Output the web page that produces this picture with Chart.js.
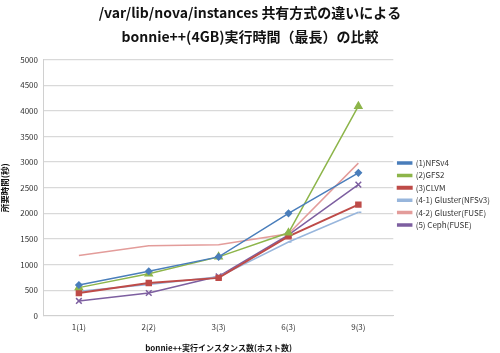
<!DOCTYPE html>
<html>
<head>
<meta charset="utf-8">
<script src="https://cdn.jsdelivr.net/npm/chart.js@4"></script>
<style>
  html, body { margin: 0; padding: 0; background: #fff; }
  #wrap { width: 500px; height: 353px; }
</style>
</head>
<body>
<div id="wrap"><canvas id="timeChart" width="500" height="353"></canvas></div>
<script>
// categories (instances and hosts)
const categories = ["1(1)", "2(2)", "3(3)", "6(3)", "9(3)"];

// series values, seconds
const nfsv4 = [600, 870, 1150, 2000, 2790];
const gfs2 = [550, 820, 1150, 1620, 4090];
const clvm = [445, 640, 740, 1550, 2170];
const glusterNfs = [480, 610, 760, 1440, 2020];
const glusterFuse = [1175, 1365, 1385, 1600, 2980];
const ceph = [290, 445, 770, 1580, 2560];

const seriesNames = ["(1)NFSv4", "(2)GFS2", "(3)CLVM", "(4-1) Gluster(NFSv3)", "(4-2) Gluster(FUSE)", "(5) Ceph(FUSE)"];
const titleLines = ["/var/lib/nova/instances 共有方式の違いによる", "bonnie++(4GB)実行時間（最長）の比較"];

const jpFont = "'Noto Sans CJK JP', 'Noto Sans', sans-serif";

function series(label, data, color, style, radius, width) {
    return {
        label: label,
        data: data,
        borderColor: color,
        backgroundColor: color,
        pointStyle: style,
        pointRadius: radius,
        pointBorderWidth: 1.5,
        borderWidth: width,
        tension: 0
    };
}

const ctx = document.getElementById("timeChart").getContext("2d");

new Chart(ctx, {
    type: "line",
    data: {
        labels: categories,
        datasets: [
            series(seriesNames[0], nfsv4, "#4a7ebb", "rectRot", 3, 1.5),
            series(seriesNames[1], gfs2, "#8db54a", "triangle", 4, 1.5),
            series(seriesNames[2], clvm, "#be4b48", "rect", 3.5, 2),
            series(seriesNames[3], glusterNfs, "#98b6dc", "dash", 3, 1.5),
            series(seriesNames[4], glusterFuse, "#e39c9a", "circle", 0, 1.5),
            series(seriesNames[5], ceph, "#7d5fa0", "crossRot", 4, 1.5)
        ]
    },
    options: {
        responsive: false,
        animation: false,
        layout: { padding: { left: 0, right: 0, top: 0, bottom: 0 } },
        plugins: {
            title: {
                display: true,
                text: titleLines,
                color: "#111",
                font: { family: jpFont, size: 14, weight: "bold", lineHeight: 1.7 },
                padding: { top: 1, bottom: 11 }
            },
            legend: {
                position: "right",
                align: "start",
                // empty legend title only pushes the entries down
                title: { display: true, text: " ", padding: { top: 145 }, font: { size: 8 } },
                labels: {
                    color: "#333",
                    font: { family: jpFont, size: 8 },
                    boxWidth: 14,
                    boxHeight: 2,
                    padding: 4.4
                }
            },
            tooltip: { enabled: false }
        },
        scales: {
            x: {
                offset: true,
                grid: { display: false, drawTicks: false },
                border: { color: "#d0d0d0", width: 1 },
                ticks: { color: "#333", font: { family: jpFont, size: 8 }, padding: 6 },
                title: {
                    display: true,
                    text: "bonnie++実行インスタンス数(ホスト数)",
                    color: "#111",
                    font: { family: jpFont, size: 8, weight: "bold" },
                    padding: { top: 6, bottom: 0 }
                }
            },
            y: {
                min: 0,
                max: 5000,
                ticks: {
                    stepSize: 500,
                    color: "#333",
                    font: { family: jpFont, size: 8 },
                    padding: 6,
                    callback: (v) => String(v)
                },
                grid: { color: "#d9d9d9", lineWidth: 1.3, drawTicks: false },
                border: { color: "#d0d0d0", width: 1 },
                title: {
                    display: true,
                    text: "所要時間(秒)",
                    color: "#111",
                    font: { family: jpFont, size: 8.5, weight: "bold" },
                    padding: { top: 0, bottom: 4 }
                }
            }
        }
    }
});
</script>
</body>
</html>
